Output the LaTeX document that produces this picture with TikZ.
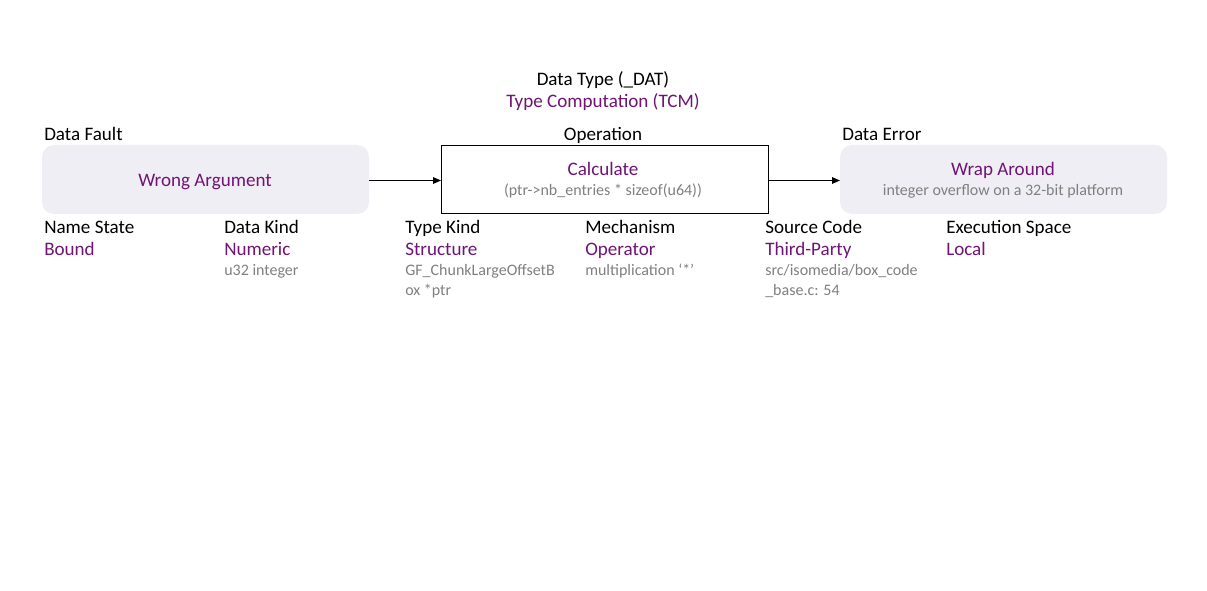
\documentclass[tikz,border=0pt]{standalone}
\usepackage{fontspec}
\setmainfont{Carlito}
\usetikzlibrary{arrows.meta}
\definecolor{accent}{RGB}{112,20,118}
\definecolor{note}{RGB}{128,128,128}
\definecolor{softfill}{RGB}{239,238,245}
\begin{document}
\begin{tikzpicture}[x=0.75pt,y=-0.75pt,
  lbl/.style={inner sep=0pt,anchor=base west,font=\fontsize{14.3pt}{16pt}\selectfont,text=black},
  val/.style={inner sep=0pt,anchor=base west,font=\fontsize{14.3pt}{16pt}\selectfont,text=accent},
  det/.style={inner sep=0pt,anchor=base west,font=\fontsize{12pt}{14pt}\selectfont,text=note},
  softbox/.style={draw=none,fill=softfill,rounded corners=9pt},
  opbox/.style={draw=black,line width=0.75pt,fill=white},
  flow/.style={line width=0.75pt,-{Triangle[length=6pt,width=5pt]}}]
\useasboundingbox[fill=white] (0,0) rectangle (1207,591);

% header
\node[lbl,anchor=base] (dt) at (603,86) {Data Type (\_DAT)};
\node[val,anchor=base] (tc) at (603,108) {Type Computation (TCM)};

% boxes
\path[softbox] (42,145) rectangle (369,214);
\node[inner sep=0pt] (fault) at (205.5,180) {};
\path[opbox] (441,146) rectangle (768,214);
\node[inner sep=0pt] (op) at (604.5,180) {};
\path[softbox] (840,145) rectangle (1167,214);
\node[inner sep=0pt] (err) at (1003.5,180) {};
\coordinate (faultE) at (369,180.5);
\coordinate (opW) at (441,180.5);
\coordinate (opE) at (768,180.5);
\coordinate (errW) at (840,180.5);

% box titles
\node[lbl] (df) at (44,141) {Data Fault};
\node[lbl,anchor=base] (opl) at (603,141) {Operation};
\node[lbl] (de) at (842,141) {Data Error};

% box contents
\node[val,anchor=base] (wa) at (205,187) {Wrong Argument};
\node[val,anchor=base] (calc) at (603,176) {Calculate};
\node[det,anchor=base] (calcd) at (603,196) {(ptr->nb\_entries * sizeof(u64))};
\node[val,anchor=base] (wr) at (1003,176) {Wrap Around};
\node[det,anchor=base] (wrd) at (1003,196) {integer overflow on a 32-bit platform};

% connectors
\draw[flow] (faultE) -- (opW);
\draw[flow] (opE) -- (errW);

% attribute columns
\node[lbl] (ns) at (44,234) {Name State};
\node[val] (nsv) at (44,256) {Bound};

\node[lbl] (dk) at (224,234) {Data Kind};
\node[val] (dkv) at (224,256) {Numeric};
\node[det] (dkd) at (224,276) {u32 integer};

\node[lbl] (tk) at (405,234) {Type Kind};
\node[val] (tkv) at (405,256) {Structure};
\node[det] (tkd1) at (405,276) {GF\_ChunkLargeOffsetB};
\node[det] (tkd2) at (405,296) {ox *ptr};

\node[lbl] (me) at (585,234) {Mechanism};
\node[val] (mev) at (585,256) {Operator};
\node[det] (med) at (585,276) {multiplication ‘*’};

\node[lbl] (sc) at (765,234) {Source Code};
\node[val] (scv) at (765,256) {Third-Party};
\node[det] (scd1) at (765,276) {src/isomedia/box\_code};
\node[det] (scd2) at (765,296) {\_base.c: 54};

\node[lbl] (es) at (946,234) {Execution Space};
\node[val] (esv) at (946,256) {Local};
\end{tikzpicture}
\end{document}
